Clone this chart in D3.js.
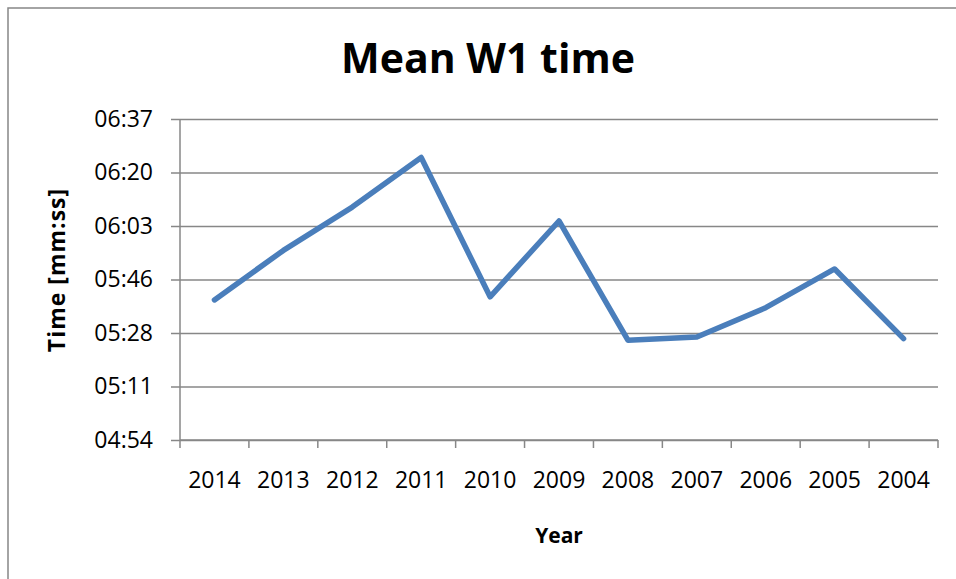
<!DOCTYPE html>
<html>
<head>
<meta charset="utf-8">
<script src="https://cdn.jsdelivr.net/npm/d3@7"></script>
<style>
  body { margin: 0; background: #fff; }
  svg { display: block; }
</style>
</head>
<body>
<svg id="canvas"></svg>
<script>
// chart values, in seconds
const years = ['2014', '2013', '2012', '2011', '2010', '2009', '2008', '2007', '2006', '2005', '2004'];
const meanTimes = [339, 355, 369, 385, 340, 364.5, 326, 327, 336.5, 349, 326.5];
// excel style ticks (0.0002 day steps)
const yTicks = [293.76, 311.04, 328.32, 345.6, 362.88, 380.16, 397.44];

let width = 956;
let height = 579;
let plotLeft = 180;
let plotRight = 938;
let plotTop = 119;
let plotBottom = 440;
let grey = '#878787';
let font = "'Open Sans', sans-serif";

let canvas = d3.select('#canvas').attr('width', width).attr('height', height);

// outer chart border (cut off on the right and bottom)
canvas.append('rect')
  .attr('x', 8).attr('y', 8)
  .attr('width', width + 20).attr('height', height + 20)
  .attr('fill', 'none').attr('stroke', grey).attr('stroke-width', 1.5);

let xScale = d3.scaleBand().domain(years).range([plotLeft, plotRight]);
let yScale = d3.scaleLinear().domain([yTicks[0], yTicks[yTicks.length - 1]]).range([plotBottom, plotTop]);

let fmt = (s) => {
  let t = Math.round(s);
  return d3.format('02d')(Math.floor(t / 60)) + ':' + d3.format('02d')(t % 60);
};

// gridlines
let grid = canvas.append('g')
  .attr('transform', `translate(${plotLeft},0)`)
  .call(d3.axisLeft(yScale).tickValues(yTicks).tickSize(-(plotRight - plotLeft)).tickFormat(''));
grid.select('.domain').remove();
grid.selectAll('line').attr('stroke', grey).attr('stroke-width', 1.5);

// y axis
let yAxis = canvas.append('g')
  .attr('transform', `translate(${plotLeft},0)`)
  .call(d3.axisLeft(yScale).tickValues(yTicks).tickSize(9).tickPadding(18).tickFormat(fmt));
yAxis.select('.domain').attr('stroke', grey).attr('stroke-width', 1.5).attr('d', `M0,${plotTop}V${plotBottom}`);
yAxis.selectAll('line').attr('stroke', grey).attr('stroke-width', 1.5);
yAxis.selectAll('text').attr('font-family', font).attr('font-size', 23).attr('fill', '#000');

// x axis
let xAxis = canvas.append('g')
  .attr('transform', `translate(0,${plotBottom})`)
  .call(d3.axisBottom(xScale).tickSize(0).tickPadding(32));
xAxis.select('.domain').attr('stroke', grey).attr('stroke-width', 1.5).attr('d', `M${plotLeft},0H${plotRight}`);
xAxis.selectAll('text').attr('font-family', font).attr('font-size', 23).attr('fill', '#000');

// category boundary ticks
canvas.append('g')
  .selectAll('line')
  .data(years.concat(['end']))
  .enter()
  .append('line')
  .attr('x1', (d) => (d === 'end' ? plotRight : xScale(d)))
  .attr('x2', (d) => (d === 'end' ? plotRight : xScale(d)))
  .attr('y1', plotBottom)
  .attr('y2', plotBottom + 8)
  .attr('stroke', grey)
  .attr('stroke-width', 1.5);

// the series line
let line = d3.line()
  .x((d, i) => xScale(years[i]) + xScale.bandwidth() / 2)
  .y((d) => yScale(d));

canvas.append('path')
  .datum(meanTimes)
  .attr('d', line)
  .attr('fill', 'none')
  .attr('stroke', '#4a7ebb')
  .attr('stroke-width', 5.5)
  .attr('stroke-linejoin', 'round')
  .attr('stroke-linecap', 'round');

// titles
canvas.append('text')
  .attr('x', 488).attr('y', 73)
  .attr('text-anchor', 'middle')
  .attr('font-family', font).attr('font-weight', 'bold').attr('font-size', 41)
  .text('Mean W1 time');

canvas.append('text')
  .attr('x', (plotLeft + plotRight) / 2).attr('y', 543)
  .attr('text-anchor', 'middle')
  .attr('font-family', font).attr('font-weight', 'bold').attr('font-size', 21)
  .text('Year');

canvas.append('text')
  .attr('transform', `translate(65,270) rotate(-90)`)
  .attr('text-anchor', 'middle')
  .attr('font-family', font).attr('font-weight', 'bold').attr('font-size', 23)
  .attr('letter-spacing', 1)
  .text('Time [mm:ss]');
</script>
</body>
</html>
